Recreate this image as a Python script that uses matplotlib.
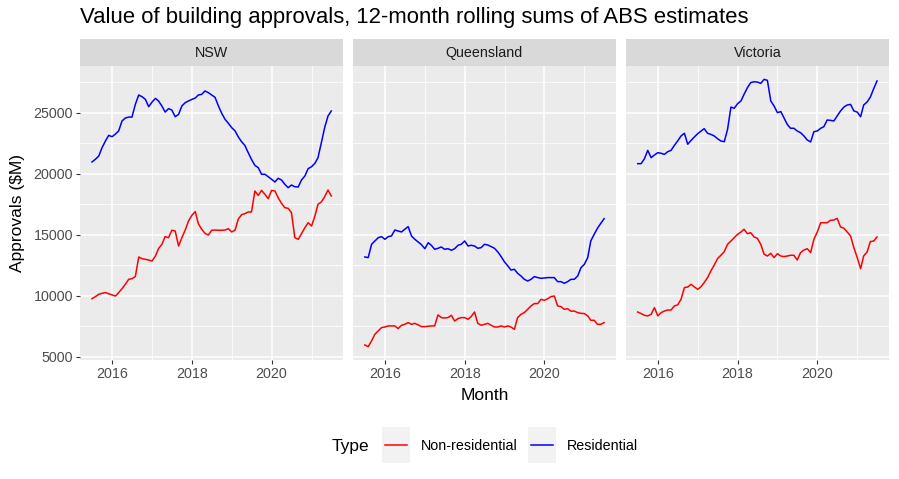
import matplotlib
matplotlib.use("Agg")
import matplotlib.pyplot as plt
import matplotlib.dates as mdates
from matplotlib.legend_handler import HandlerLine2D
from matplotlib.lines import Line2D
from matplotlib.patches import Rectangle
import pandas as pd

plt.rcParams['font.family'] = ['Liberation Sans', 'DejaVu Sans']

# monthly, Jul 2015 - Jul 2021
months = pd.date_range('2015-07-01', periods=73, freq='MS')

states = ['NSW', 'Queensland', 'Victoria']

nsw_res = [20960, 21180, 21450, 22130, 22680, 23140, 23030, 23250, 23500, 24320,
           24560, 24640, 24640, 25680, 26450, 26310, 26090, 25490, 25870, 26170,
           25960, 25550, 25050, 25330, 25220, 24670, 24860, 25550, 25820, 25960,
           26090, 26200, 26450, 26500, 26780, 26640, 26450, 26260, 25550, 24950,
           24450, 24130, 23770, 23500, 23030, 22620, 22320, 21720, 21170, 20680,
           20490, 19950, 19950, 19750, 19540, 19320, 19620, 19480, 19130, 18850,
           19070, 18930, 18910, 19480, 19810, 20410, 20570, 20850, 21310, 22540,
           23770, 24730, 25140]
nsw_nonres = [9750, 9920, 10110, 10190, 10250, 10160, 10060, 9970, 10250, 10570,
              10930, 11340, 11390, 11560, 13170, 13030, 12980, 12920, 12840, 13250,
              13850, 14210, 14840, 14750, 15360, 15300, 14070, 14750, 15380, 16120,
              16590, 16890, 15900, 15440, 15110, 14970, 15360, 15380, 15360, 15360,
              15380, 15490, 15220, 15380, 16260, 16640, 16720, 16860, 16860, 18580,
              18220, 18630, 18310, 17950, 18630, 18580, 18030, 17570, 17210, 17160,
              16800, 14750, 14620, 15080, 15570, 15980, 15710, 16530, 17490, 17680,
              18110, 18660, 18170]

qld_res = [13170, 13120, 14210, 14480, 14750, 14840, 14620, 14840, 14890, 15380,
           15300, 15220, 15440, 15660, 14890, 14620, 14400, 14180, 13850, 14340,
           14130, 13800, 13880, 13990, 13800, 13850, 13720, 13850, 14130, 14210,
           14480, 14070, 14130, 14070, 13880, 13940, 14210, 14150, 14020, 13880,
           13580, 13200, 12760, 12430, 12100, 12160, 11830, 11610, 11340, 11200,
           11340, 11560, 11480, 11420, 11450, 11480, 11480, 11480, 11150, 11150,
           11010, 11150, 11340, 11340, 11610, 12290, 12570, 13120, 14480, 15030,
           15520, 15930, 16310]
qld_nonres = [5960, 5820, 6290, 6830, 7110, 7380, 7430, 7520, 7520, 7520,
              7300, 7570, 7650, 7790, 7650, 7730, 7600, 7460, 7460, 7490,
              7520, 7520, 8420, 8200, 8170, 8200, 8390, 7920, 8120, 8200,
              8200, 8060, 8280, 8660, 7730, 7570, 7650, 7730, 7570, 7430,
              7430, 7520, 7430, 7520, 7430, 7240, 8200, 8470, 8610, 8880,
              9160, 9350, 9350, 9700, 9620, 9750, 9920, 9970, 9160, 9100,
              8880, 8930, 8720, 8740, 8610, 8550, 8530, 8340, 7980, 7980,
              7650, 7650, 7790]

vic_res = [20820, 20820, 21230, 21910, 21310, 21530, 21720, 21670, 21580, 21800,
           21910, 22320, 22680, 23090, 23310, 22410, 22730, 23010, 23280, 23500,
           23690, 23310, 23220, 23090, 22870, 22680, 22620, 23630, 25460, 25360,
           25740, 25960, 26500, 27050, 27460, 27540, 27510, 27400, 27730, 27650,
           25960, 25550, 25000, 25090, 24590, 24040, 23720, 23720, 23500, 23360,
           23090, 22760, 22600, 23440, 23500, 23720, 23850, 24400, 24370, 24320,
           24730, 25140, 25460, 25630, 25680, 25140, 25050, 24670, 25630, 25870,
           26280, 26970, 27600]
vic_nonres = [8660, 8530, 8390, 8340, 8470, 9020, 8340, 8610, 8740, 8820,
              8820, 9160, 9240, 9700, 10660, 10710, 10930, 10710, 10520, 10740,
              11070, 11480, 12020, 12510, 13030, 13310, 13610, 14210, 14480, 14750,
              15030, 15220, 15440, 15080, 15160, 14810, 14700, 14210, 13390, 13250,
              13470, 13120, 13440, 13250, 13200, 13250, 13310, 13310, 12920, 13530,
              13740, 13850, 13530, 14620, 15220, 15980, 15980, 15980, 16180, 16200,
              16340, 15630, 15520, 15220, 14890, 13940, 13120, 12210, 13250, 13580,
              14430, 14480, 14810]

residential = [nsw_res, qld_res, vic_res]
non_residential = [nsw_nonres, qld_nonres, vic_nonres]

RED = '#FF0000'
BLUE = '#0000FF'
GRID_BG = '#EBEBEB'
STRIP_BG = '#D9D9D9'
TICK_COL = '#4D4D4D'

W, H = 899, 479
fig = plt.figure(figsize=(W / 100, H / 100), dpi=100)

panel_w = 263.3
lefts = [80, 352.8, 625.7]
top_px, bot_px = 66, 360
strip_h = 27

ymin, ymax = 4725, 28826
xmin = pd.Timestamp('2015-07-01') - pd.Timedelta(days=110)
xmax = pd.Timestamp('2021-07-01') + pd.Timedelta(days=110)

for k, st in enumerate(states):
    ax = fig.add_axes([lefts[k] / W, 1 - bot_px / H, panel_w / W, (bot_px - top_px) / H])
    ax.set_facecolor(GRID_BG)
    for s in ax.spines.values():
        s.set_visible(False)

    ax.plot(months, non_residential[k], color=RED, lw=1.1, zorder=3)
    ax.plot(months, residential[k], color=BLUE, lw=1.1, zorder=3)

    ax.set_xlim(xmin, xmax)
    ax.set_ylim(ymin, ymax)
    ax.xaxis.set_major_locator(mdates.YearLocator(2, month=1, day=1))
    ax.xaxis.set_minor_locator(mdates.YearLocator(1))
    ax.xaxis.set_major_formatter(mdates.DateFormatter('%Y'))
    ax.set_yticks([5000, 10000, 15000, 20000, 25000])
    ax.set_yticks([7500, 12500, 17500, 22500, 27500], minor=True)

    ax.grid(True, which='major', color='white', lw=1.1, zorder=1)
    ax.grid(True, which='minor', color='white', lw=0.55, zorder=1)
    ax.tick_params(which='major', length=3, color='#333333', width=0.8,
                   labelcolor=TICK_COL, labelsize=10.3, pad=2)
    ax.tick_params(which='minor', length=0)
    if k > 0:
        ax.tick_params(axis='y', which='both', left=False, labelleft=False)

    # facet strip
    sax = fig.add_axes([lefts[k] / W, 1 - top_px / H, panel_w / W, strip_h / H])
    sax.set_facecolor(STRIP_BG)
    sax.set_xticks([])
    sax.set_yticks([])
    for s in sax.spines.values():
        s.set_visible(False)
    sax.text(0.5, 0.48, st, ha='center', va='center', fontsize=10.3, color='#1A1A1A',
             transform=sax.transAxes)

fig.text(80 / W, 1 - 18 / H, 'Value of building approvals, 12-month rolling sums of ABS estimates',
         ha='left', va='center', fontsize=15.9, color='black')
fig.text((80 + 889) / 2 / W, 1 - 395 / H, 'Month', ha='center', va='center', fontsize=12.5)
fig.text(18 / W, 1 - 213 / H, 'Approvals ($M)', ha='center', va='center', fontsize=12.5,
         rotation=90)


class KeyHandler(HandlerLine2D):
    def create_artists(self, legend, orig_handle, xdescent, ydescent, width, height,
                       fontsize, trans):
        bg = Rectangle((-xdescent - 2, -ydescent + height / 2 - 13), width + 4, 26,
                       facecolor='#F2F2F2', edgecolor='none', transform=trans)
        arts = super().create_artists(legend, orig_handle, xdescent, ydescent, width,
                                      height, fontsize, trans)
        return [bg] + list(arts)


handles = [Line2D([], [], color=RED, lw=1.1), Line2D([], [], color=BLUE, lw=1.1)]
fig.text(332 / W, 1 - 447 / H, 'Type', ha='left', va='center', fontsize=12.5)
leg = fig.legend(handles, ['Non-residential', 'Residential'], ncol=2, frameon=False,
                 loc='center left', bbox_to_anchor=(385 / W, 1 - 446 / H),
                 fontsize=10.3, handlelength=1.55, handletextpad=0.95, columnspacing=0.95,
                 borderpad=0, borderaxespad=0, handler_map={Line2D: KeyHandler()})

fig.savefig('out.png', dpi=100, facecolor='white')
